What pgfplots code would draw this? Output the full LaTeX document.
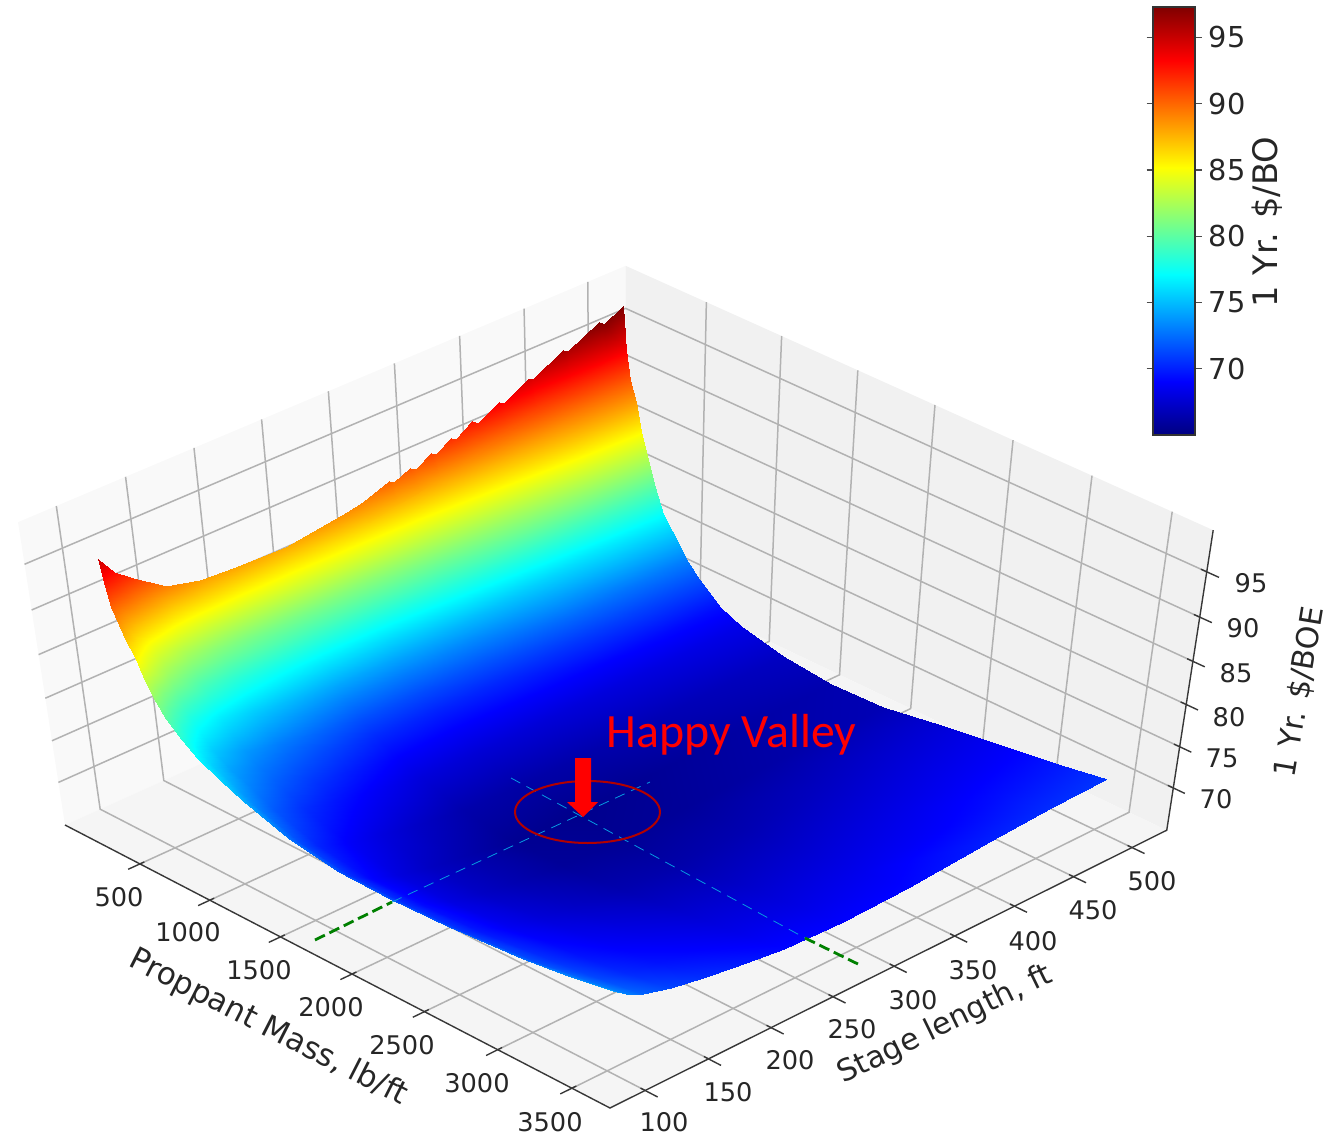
\documentclass[border=0pt]{standalone}
\usepackage{fontspec}
\setmainfont{DejaVu Sans}
\newfontfamily\callout{Carlito}
\usepackage{pgfplots}
\usepackage{pgfplotstable}
\pgfplotsset{compat=1.18}

% mass (lb/ft), stage length (ft), 1 yr $/BOE
\pgfplotstableread[row sep=crcr]{
m s c\\
150 505 97.7\\ 170 505 93.5\\ 200 505 90.5\\ 240 505 88.3\\ 280 505 85.3\\ 330 505 82.5\\ 380 505 79.8\\ 440 505 77.2\\ 500 505 75.6\\ 600 505 73.1\\ 700 505 71.5\\ 850 505 69.4\\ 1000 505 68.3\\ 1300 505 67.1\\ 1640 505 66.5\\ 2000 505 66.7\\ 2400 505 67.8\\ 2900 505 69\\ 3200 505 69.8\\ 3500 505 70.7\\
150 458 95.5\\ 170 458 92\\ 200 458 89.2\\ 240 458 86.9\\ 280 458 84.1\\ 330 458 81.5\\ 380 458 79\\ 440 458 76.6\\ 500 458 75.1\\ 600 458 72.7\\ 700 458 71.2\\ 850 458 69.3\\ 1000 458 68.2\\ 1300 458 66.9\\ 1640 458 66.3\\ 2000 458 66.5\\ 2400 458 67.5\\ 2900 458 68.7\\ 3200 458 69.5\\ 3500 458 70.4\\
150 408 93\\ 170 408 90\\ 200 408 87.4\\ 240 408 85\\ 280 408 82.6\\ 330 408 80.2\\ 380 408 78\\ 440 408 75.8\\ 500 408 74.4\\ 600 408 72.3\\ 700 408 70.8\\ 850 408 69.1\\ 1000 408 68\\ 1300 408 66.7\\ 1640 408 66\\ 2000 408 66.2\\ 2400 408 67.1\\ 2900 408 68.3\\ 3200 408 69\\ 3500 408 70\\
150 340 90.1\\ 170 340 87.9\\ 200 340 85.2\\ 240 340 82.7\\ 280 340 80.6\\ 330 340 78.5\\ 380 340 76.7\\ 440 340 74.8\\ 500 340 73.4\\ 600 340 71.7\\ 700 340 70.3\\ 850 340 68.9\\ 1000 340 67.8\\ 1300 340 66.35\\ 1640 340 65.6\\ 2000 340 65.8\\ 2400 340 66.55\\ 2900 340 67.75\\ 3200 340 68.5\\ 3500 340 69.2\\
150 287 88.7\\ 170 287 86.5\\ 200 287 84\\ 240 287 81.5\\ 280 287 79.6\\ 330 287 77.7\\ 380 287 76\\ 440 287 74.3\\ 500 287 73\\ 600 287 71.4\\ 700 287 70.1\\ 850 287 68.8\\ 1000 287 67.7\\ 1300 287 66.2\\ 1640 287 65.4\\ 2000 287 65.6\\ 2400 287 66.3\\ 2900 287 67.5\\ 3200 287 68.2\\ 3500 287 69\\
150 240 87.8\\ 170 240 86\\ 200 240 83.5\\ 240 240 80.9\\ 280 240 79.4\\ 330 240 77.5\\ 380 240 76\\ 440 240 74.3\\ 500 240 73.1\\ 600 240 71.5\\ 700 240 70.3\\ 850 240 69\\ 1000 240 67.9\\ 1300 240 66.4\\ 1640 240 65.6\\ 2000 240 65.8\\ 2400 240 66.5\\ 2900 240 67.7\\ 3200 240 68.4\\ 3500 240 69.2\\
150 200 88\\ 170 200 86\\ 200 200 83.5\\ 240 200 80.9\\ 280 200 79.75\\ 330 200 77.85\\ 380 200 76.7\\ 440 200 75\\ 500 200 74\\ 600 200 72.4\\ 700 200 71.3\\ 850 200 70\\ 1000 200 68.9\\ 1300 200 67.3\\ 1640 200 66.5\\ 2000 200 66.6\\ 2400 200 67.25\\ 2900 200 68.4\\ 3200 200 69.1\\ 3500 200 70\\
150 175 88.2\\ 170 175 86.3\\ 200 175 83.8\\ 240 175 81.3\\ 280 175 80.3\\ 330 175 78.5\\ 380 175 77.3\\ 440 175 75.6\\ 500 175 74.6\\ 600 175 73\\ 700 175 72\\ 850 175 70.7\\ 1000 175 69.6\\ 1300 175 68\\ 1640 175 67.1\\ 2000 175 67.2\\ 2400 175 67.8\\ 2900 175 68.9\\ 3200 175 69.6\\ 3500 175 70.5\\
150 150 89.2\\ 170 150 87.3\\ 200 150 84.8\\ 240 150 82.4\\ 280 150 81.4\\ 330 150 79.6\\ 380 150 78.3\\ 440 150 76.6\\ 500 150 75.6\\ 600 150 73.9\\ 700 150 72.9\\ 850 150 71.7\\ 1000 150 70.5\\ 1300 150 68.9\\ 1640 150 68\\ 2000 150 68.1\\ 2400 150 68.6\\ 2900 150 69.6\\ 3200 150 70.3\\ 3500 150 71.2\\
150 128 91.5\\ 170 128 89.5\\ 200 128 86.9\\ 240 128 84.7\\ 280 128 83.3\\ 330 128 81.65\\ 380 128 79.9\\ 440 128 78.1\\ 500 128 77\\ 600 128 75.3\\ 700 128 74.2\\ 850 128 73\\ 1000 128 71.8\\ 1300 128 70.1\\ 1640 128 69.2\\ 2000 128 69.3\\ 2400 128 69.7\\ 2900 128 70.6\\ 3200 128 71.3\\ 3500 128 72.2\\
150 115 93\\ 170 115 91.2\\ 200 115 88.5\\ 240 115 86.6\\ 280 115 85.15\\ 330 115 83.6\\ 380 115 81.6\\ 440 115 79.8\\ 500 115 78.5\\ 600 115 76.8\\ 700 115 75.6\\ 850 115 74.3\\ 1000 115 73.1\\ 1300 115 71.3\\ 1640 115 70.5\\ 2000 115 70.4\\ 2400 115 70.7\\ 2900 115 71.5\\ 3200 115 72.3\\ 3500 115 73.2\\
150 105 95\\ 170 105 93\\ 200 105 90.2\\ 240 105 88.5\\ 280 105 87\\ 330 105 85.6\\ 380 105 83.3\\ 440 105 81.4\\ 500 105 80\\ 600 105 78.3\\ 700 105 77\\ 850 105 75.8\\ 1000 105 74.6\\ 1300 105 72.7\\ 1640 105 71.8\\ 2000 105 71.7\\ 2400 105 71.9\\ 2900 105 72.6\\ 3200 105 73.4\\ 3500 105 74.4\\
}\surfdata

% saw teeth of the far edge
\pgfplotstableread[row sep=crcr]{
m s c\\
150 505 98\\ 170 505 93.5\\
150 490 97\\ 170 490 93.2\\
150 486 97.4\\ 170 486 93.1\\
150 462 95.7\\ 170 462 92.2\\
150 458 96.1\\ 170 458 92\\
150 434 94.3\\ 170 434 91.1\\
150 430 94.6\\ 170 430 90.9\\
150 411 93.15\\ 170 411 90.2\\
150 407 93.5\\ 170 407 90\\
150 390 92.2\\ 170 390 89.3\\
150 386 92.6\\ 170 386 89.1\\
150 373 91.5\\ 170 373 88.7\\
150 369 91.8\\ 170 369 88.6\\
150 357 90.8\\ 170 357 88.2\\
150 353 91.2\\ 170 353 88.1\\
150 341 90.1\\ 170 341 87.9\\
150 337 90.5\\ 170 337 87.7\\
150 324 89.7\\ 170 324 87.48\\
150 320 90.1\\ 170 320 87.37\\
150 300 89\\ 170 300 86.84\\
}\edgedata

% perspective of the box: data -> picture pixels
\pgfplotsset{
  table/proj/.style={
    x expr={projx(\thisrow{m},\thisrow{s},\thisrow{c})},
    y expr={projy(\thisrow{m},\thisrow{s},\thisrow{c})},
    row sep=crcr},
  gridline/.style={draw=black!30,line width=0.15mm,no marks},
  axisline/.style={draw=black!78,line width=0.14mm,no marks},
}
\tikzset{
  tl/.style={font=\fontsize{7.3}{9}\selectfont,text=black!85,inner sep=0pt},
  al/.style={font=\fontsize{8.6}{10}\selectfont,text=black!85,inner sep=0pt},
}

\begin{document}
\begin{tikzpicture}[declare function={
    uu(\a)=(\a+43)/3797;
    vv(\b)=(\b-72.6)/457.4;
    ww(\c)=(\c-64.76)/34.74;
    dn(\a,\b,\c)=1-0.04444*uu(\a)+0.05166*vv(\b)-0.07846*ww(\c);
    projx(\a,\b,\c)=(65+517.9*uu(\a)+592.3*vv(\b)-48.41*ww(\c))/dn(\a,\b,\c);
    projy(\a,\b,\c)=-(825+233.7*uu(\a)-222.5*vv(\b)-343.8*ww(\c))/dn(\a,\b,\c);
  }]
\useasboundingbox (0,0) rectangle (13.27,11.36);
\begin{axis}[
  at={(0,0)},anchor=south west,
  scale only axis,width=13.27cm,height=11.36cm,
  xmin=0,xmax=1327,ymin=-1136,ymax=0,
  hide axis,clip=false,
  colormap/jet,
  point meta min=65,point meta max=97.3,
  colorbar,
  colorbar style={
    at={(0.8689,0.6171)},anchor=south west,
    scale only axis,width=0.42cm,height=4.28cm,
    ytick={70,75,80,85,90,95},
    yticklabel pos=right,
    tick align=outside,
    major tick length=0.65mm,
    tick style={draw=black!70,line width=0.12mm},
    axis line style={draw=black!80,line width=0.12mm},
    yticklabel style={font=\fontsize{8.2}{10}\selectfont,text=black!85,
      /pgf/number format/assume math mode=true,xshift=-0.5mm},
  },
]
% panes
\addplot[fill=black!2.5,draw=none,no marks] table[proj] {m s c\\ -43 72.6 64.76\\ -43 530 64.76\\ -43 530 99.5\\ -43 72.6 99.5\\ -43 72.6 64.76\\};
\addplot[fill=black!5.5,draw=none,no marks] table[proj] {m s c\\ -43 530 64.76\\ 3754 530 64.76\\ 3754 530 99.5\\ -43 530 99.5\\ -43 530 64.76\\};
\addplot[fill=black!4,draw=none,no marks] table[proj] {m s c\\ -43 72.6 64.76\\ 3754 72.6 64.76\\ 3754 530 64.76\\ -43 530 64.76\\ -43 72.6 64.76\\};
% grid, proppant mass
\addplot[gridline] table[proj] {m s c\\ 500 72.6 64.76\\ 500 530 64.76\\ 500 530 99.5\\};
\addplot[gridline] table[proj] {m s c\\ 1000 72.6 64.76\\ 1000 530 64.76\\ 1000 530 99.5\\};
\addplot[gridline] table[proj] {m s c\\ 1500 72.6 64.76\\ 1500 530 64.76\\ 1500 530 99.5\\};
\addplot[gridline] table[proj] {m s c\\ 2000 72.6 64.76\\ 2000 530 64.76\\ 2000 530 99.5\\};
\addplot[gridline] table[proj] {m s c\\ 2500 72.6 64.76\\ 2500 530 64.76\\ 2500 530 99.5\\};
\addplot[gridline] table[proj] {m s c\\ 3000 72.6 64.76\\ 3000 530 64.76\\ 3000 530 99.5\\};
\addplot[gridline] table[proj] {m s c\\ 3500 72.6 64.76\\ 3500 530 64.76\\ 3500 530 99.5\\};
% grid, stage length
\addplot[gridline] table[proj] {m s c\\ 3754 100 64.76\\ -43 100 64.76\\ -43 100 99.5\\};
\addplot[gridline] table[proj] {m s c\\ 3754 150 64.76\\ -43 150 64.76\\ -43 150 99.5\\};
\addplot[gridline] table[proj] {m s c\\ 3754 200 64.76\\ -43 200 64.76\\ -43 200 99.5\\};
\addplot[gridline] table[proj] {m s c\\ 3754 250 64.76\\ -43 250 64.76\\ -43 250 99.5\\};
\addplot[gridline] table[proj] {m s c\\ 3754 300 64.76\\ -43 300 64.76\\ -43 300 99.5\\};
\addplot[gridline] table[proj] {m s c\\ 3754 350 64.76\\ -43 350 64.76\\ -43 350 99.5\\};
\addplot[gridline] table[proj] {m s c\\ 3754 400 64.76\\ -43 400 64.76\\ -43 400 99.5\\};
\addplot[gridline] table[proj] {m s c\\ 3754 450 64.76\\ -43 450 64.76\\ -43 450 99.5\\};
\addplot[gridline] table[proj] {m s c\\ 3754 500 64.76\\ -43 500 64.76\\ -43 500 99.5\\};
% grid, cost
\addplot[gridline] table[proj] {m s c\\ -43 72.6 70\\ -43 530 70\\ 3754 530 70\\};
\addplot[gridline] table[proj] {m s c\\ -43 72.6 75\\ -43 530 75\\ 3754 530 75\\};
\addplot[gridline] table[proj] {m s c\\ -43 72.6 80\\ -43 530 80\\ 3754 530 80\\};
\addplot[gridline] table[proj] {m s c\\ -43 72.6 85\\ -43 530 85\\ 3754 530 85\\};
\addplot[gridline] table[proj] {m s c\\ -43 72.6 90\\ -43 530 90\\ 3754 530 90\\};
\addplot[gridline] table[proj] {m s c\\ -43 72.6 95\\ -43 530 95\\ 3754 530 95\\};
% box edges and ticks
\addplot[axisline] table[proj] {m s c\\ -43 72.6 64.76\\ 3754 72.6 64.76\\ 3754 530 64.76\\ 3754 530 99.5\\};
\addplot[axisline] table[proj] {m s c\\ 500 63.5 64.76\\ 500 76 64.76\\};
\addplot[axisline] table[proj] {m s c\\ 1000 63.5 64.76\\ 1000 76 64.76\\};
\addplot[axisline] table[proj] {m s c\\ 1500 63.5 64.76\\ 1500 76 64.76\\};
\addplot[axisline] table[proj] {m s c\\ 2000 63.5 64.76\\ 2000 76 64.76\\};
\addplot[axisline] table[proj] {m s c\\ 2500 63.5 64.76\\ 2500 76 64.76\\};
\addplot[axisline] table[proj] {m s c\\ 3000 63.5 64.76\\ 3000 76 64.76\\};
\addplot[axisline] table[proj] {m s c\\ 3500 63.5 64.76\\ 3500 76 64.76\\};
\addplot[axisline] table[proj] {m s c\\ 3724 100 64.76\\ 3838 100 64.76\\};
\addplot[axisline] table[proj] {m s c\\ 3724 150 64.76\\ 3838 150 64.76\\};
\addplot[axisline] table[proj] {m s c\\ 3724 200 64.76\\ 3838 200 64.76\\};
\addplot[axisline] table[proj] {m s c\\ 3724 250 64.76\\ 3838 250 64.76\\};
\addplot[axisline] table[proj] {m s c\\ 3724 300 64.76\\ 3838 300 64.76\\};
\addplot[axisline] table[proj] {m s c\\ 3724 350 64.76\\ 3838 350 64.76\\};
\addplot[axisline] table[proj] {m s c\\ 3724 400 64.76\\ 3838 400 64.76\\};
\addplot[axisline] table[proj] {m s c\\ 3724 450 64.76\\ 3838 450 64.76\\};
\addplot[axisline] table[proj] {m s c\\ 3724 500 64.76\\ 3838 500 64.76\\};
\addplot[axisline] table[proj] {m s c\\ 3717 530 70\\ 3830 530 70\\};
\addplot[axisline] table[proj] {m s c\\ 3717 530 75\\ 3830 530 75\\};
\addplot[axisline] table[proj] {m s c\\ 3717 530 80\\ 3830 530 80\\};
\addplot[axisline] table[proj] {m s c\\ 3717 530 85\\ 3830 530 85\\};
\addplot[axisline] table[proj] {m s c\\ 3717 530 90\\ 3830 530 90\\};
\addplot[axisline] table[proj] {m s c\\ 3717 530 95\\ 3830 530 95\\};
% the surface
\addplot[surf,shader=interp,mesh/rows=12,mesh/cols=20,point meta=\thisrow{c}] table[proj] {\surfdata};
\addplot[surf,shader=interp,mesh/rows=20,mesh/cols=2,point meta=\thisrow{c}] table[proj] {\edgedata};
% dashed guides, in picture pixels
\addplot[no marks,densely dashed,draw=cyan!85!blue,line width=0.08mm] coordinates {(392,-902) (650,-782)};
\addplot[no marks,densely dashed,draw=cyan!85!blue,line width=0.08mm] coordinates {(511,-778) (805,-938)};
\addplot[no marks,dash pattern=on 1.1mm off 0.5mm,draw=green!50!black,line width=0.28mm] coordinates {(315,-940) (392,-902)};
\addplot[no marks,dash pattern=on 1.1mm off 0.5mm,draw=green!50!black,line width=0.28mm] coordinates {(805,-938) (862,-966)};
% ticks labels
\node[tl] at (axis cs:119,-897) {500};
\node[tl] at (axis cs:188,-932) {1000};
\node[tl] at (axis cs:259,-970) {1500};
\node[tl] at (axis cs:331,-1007) {2000};
\node[tl] at (axis cs:402,-1045) {2500};
\node[tl] at (axis cs:477,-1083) {3000};
\node[tl] at (axis cs:550,-1122) {3500};
\node[tl] at (axis cs:664,-1122) {100};
\node[tl] at (axis cs:728,-1092) {150};
\node[tl] at (axis cs:790,-1060) {200};
\node[tl] at (axis cs:852,-1029) {250};
\node[tl] at (axis cs:913,-1000) {300};
\node[tl] at (axis cs:973,-970) {350};
\node[tl] at (axis cs:1033,-941) {400};
\node[tl] at (axis cs:1093,-910) {450};
\node[tl] at (axis cs:1152,-881) {500};
\node[tl] at (axis cs:1251,-583) {95};
\node[tl] at (axis cs:1243,-628) {90};
\node[tl] at (axis cs:1236,-673) {85};
\node[tl] at (axis cs:1229,-717) {80};
\node[tl] at (axis cs:1222,-758) {75};
\node[tl] at (axis cs:1216,-799) {70};
\node[al,rotate=-27,font=\fontsize{8.8}{10}\selectfont] at (axis cs:268,-1028) {Proppant Mass, lb/ft};
\node[al,rotate=26] at (axis cs:945,-1025) {Stage length, ft};
\node[al,rotate=80.5] at (axis cs:1300,-692) {1 Yr. \$/BOE};
\node[al,rotate=90,font=\fontsize{9.6}{11}\selectfont] at (axis cs:1267,-222) {1 Yr. \$/BO};
% annotation
\draw[draw=red!70!black,line width=0.2mm] (axis cs:587.5,-812) ellipse [x radius=0.725cm,y radius=0.31cm];
\fill[red] (axis cs:575,-758) -- (axis cs:591,-758) -- (axis cs:591,-802) -- (axis cs:598,-802) -- (axis cs:583,-817) -- (axis cs:567,-802) -- (axis cs:575,-802) -- cycle;
\node[anchor=base west,inner sep=0pt,text=red,font=\callout\fontsize{13.6}{15}\selectfont] at (axis cs:606,-747) {Happy Valley};
\end{axis}
\end{tikzpicture}
\end{document}
